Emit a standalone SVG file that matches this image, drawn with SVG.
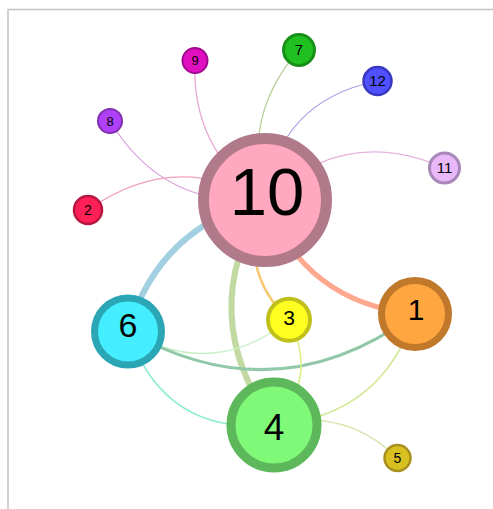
<svg xmlns="http://www.w3.org/2000/svg" width="493" height="509" viewBox="0 0 493 509">
<style>
.e{fill:none;stroke-linecap:round}
.t{fill:#000;font-family:"Liberation Sans",Arial,sans-serif;text-anchor:middle}
</style>
<rect width="493" height="509" fill="#fff"/>
<rect x="8" y="9.5" width="490" height="510" fill="none" stroke="#c4c4c4" stroke-width="1.5"/>
<g id="connectors">
<path class="e" d="M195,60 Q190.7,149.7 265,200" stroke="#e6a2d2" stroke-width="1.2"/>
<path class="e" d="M110,121 Q163,208.6 265,200" stroke="#d8a0dc" stroke-width="1.2"/>
<path class="e" d="M88,210 Q173.4,149.1 265,200" stroke="#f0a0bc" stroke-width="1.2"/>
<path class="e" d="M299,50 Q241,115.7 265,200" stroke="#b8d098" stroke-width="1.2"/>
<path class="e" d="M377.5,81 Q279,100.7 265,200" stroke="#a8a0e8" stroke-width="1.2"/>
<path class="e" d="M444.5,168 Q344.1,124 265,200" stroke="#e8b0e0" stroke-width="1.2"/>
<path class="e" d="M128,331 Q159.2,226.5 265,200" stroke="#a2d0e0" stroke-width="6"/>
<path class="e" d="M265,200 Q305,303 415,314" stroke="#ffa890" stroke-width="5"/>
<path class="e" d="M265,200 Q235.4,268.3 289,320" stroke="#f8c870" stroke-width="2.5"/>
<path class="e" d="M265,200 Q193.6,315.5 274,425" stroke="#c2d9a2" stroke-width="6"/>
<path class="e" d="M128,331 Q212.3,381 289,320" stroke="#c8f0c8" stroke-width="1.5"/>
<path class="e" d="M128,331 Q277,416 415,314" stroke="#90c8a8" stroke-width="3"/>
<path class="e" d="M128,331 Q163.7,436 274,425" stroke="#88ecd0" stroke-width="1.5"/>
<path class="e" d="M289,320 Q319.1,377.9 274,425" stroke="#d8f080" stroke-width="1.5"/>
<path class="e" d="M415,314 Q381.6,416.7 274,425" stroke="#d0e890" stroke-width="1.5"/>
<path class="e" d="M274,425 Q345,406.7 397.5,458" stroke="#d8e8b0" stroke-width="1.5"/>
</g>
<g id="node10"><circle cx="265" cy="200" r="61.5" fill="#ffa8bf" stroke="#b07a8a" stroke-width="11"/><text class="t" x="267" y="215" font-size="67">10</text></g>
<g id="node6"><circle cx="128" cy="331.5" r="33.5" fill="#44eeff" stroke="#2ba6b5" stroke-width="7"/><text class="t" x="128" y="337" font-size="34">6</text></g>
<g id="node4"><circle cx="274" cy="425" r="43" fill="#80f878" stroke="#5cb85a" stroke-width="9"/><text class="t" x="274" y="440" font-size="37">4</text></g>
<g id="node1"><circle cx="415" cy="314" r="33.5" fill="#ffa640" stroke="#c0782a" stroke-width="7"/><text class="t" x="416" y="320" font-size="30">1</text></g>
<g id="node3"><circle cx="289" cy="319.7" r="21" fill="#ffff22" stroke="#c0c01a" stroke-width="4"/><text class="t" x="289" y="325" font-size="21">3</text></g>
<g id="node5"><circle cx="397.5" cy="458" r="13" fill="#d8c020" stroke="#a89020" stroke-width="2.5"/><text class="t" x="397.5" y="462.5" font-size="14">5</text></g>
<g id="node2"><circle cx="88" cy="210" r="14" fill="#ff2058" stroke="#b81840" stroke-width="2.5"/><text class="t" x="88" y="214.5" font-size="14">2</text></g>
<g id="node8"><circle cx="110" cy="121" r="12" fill="#b040f8" stroke="#8030b0" stroke-width="2"/><text class="t" x="110" y="125.5" font-size="13">8</text></g>
<g id="node9"><circle cx="195" cy="60.5" r="12.5" fill="#e010c0" stroke="#a00890" stroke-width="2"/><text class="t" x="195" y="64.5" font-size="13">9</text></g>
<g id="node7"><circle cx="299" cy="50" r="15.5" fill="#20c020" stroke="#189018" stroke-width="3"/><text class="t" x="299" y="55" font-size="15">7</text></g>
<g id="node12"><circle cx="377.5" cy="81" r="14" fill="#5050ff" stroke="#3838c0" stroke-width="2.5"/><text class="t" x="377.5" y="86" font-size="15">12</text></g>
<g id="node11"><circle cx="444.5" cy="168" r="15" fill="#e8b8f8" stroke="#a888b8" stroke-width="3"/><text class="t" x="444.5" y="173" font-size="15">11</text></g>
</svg>
